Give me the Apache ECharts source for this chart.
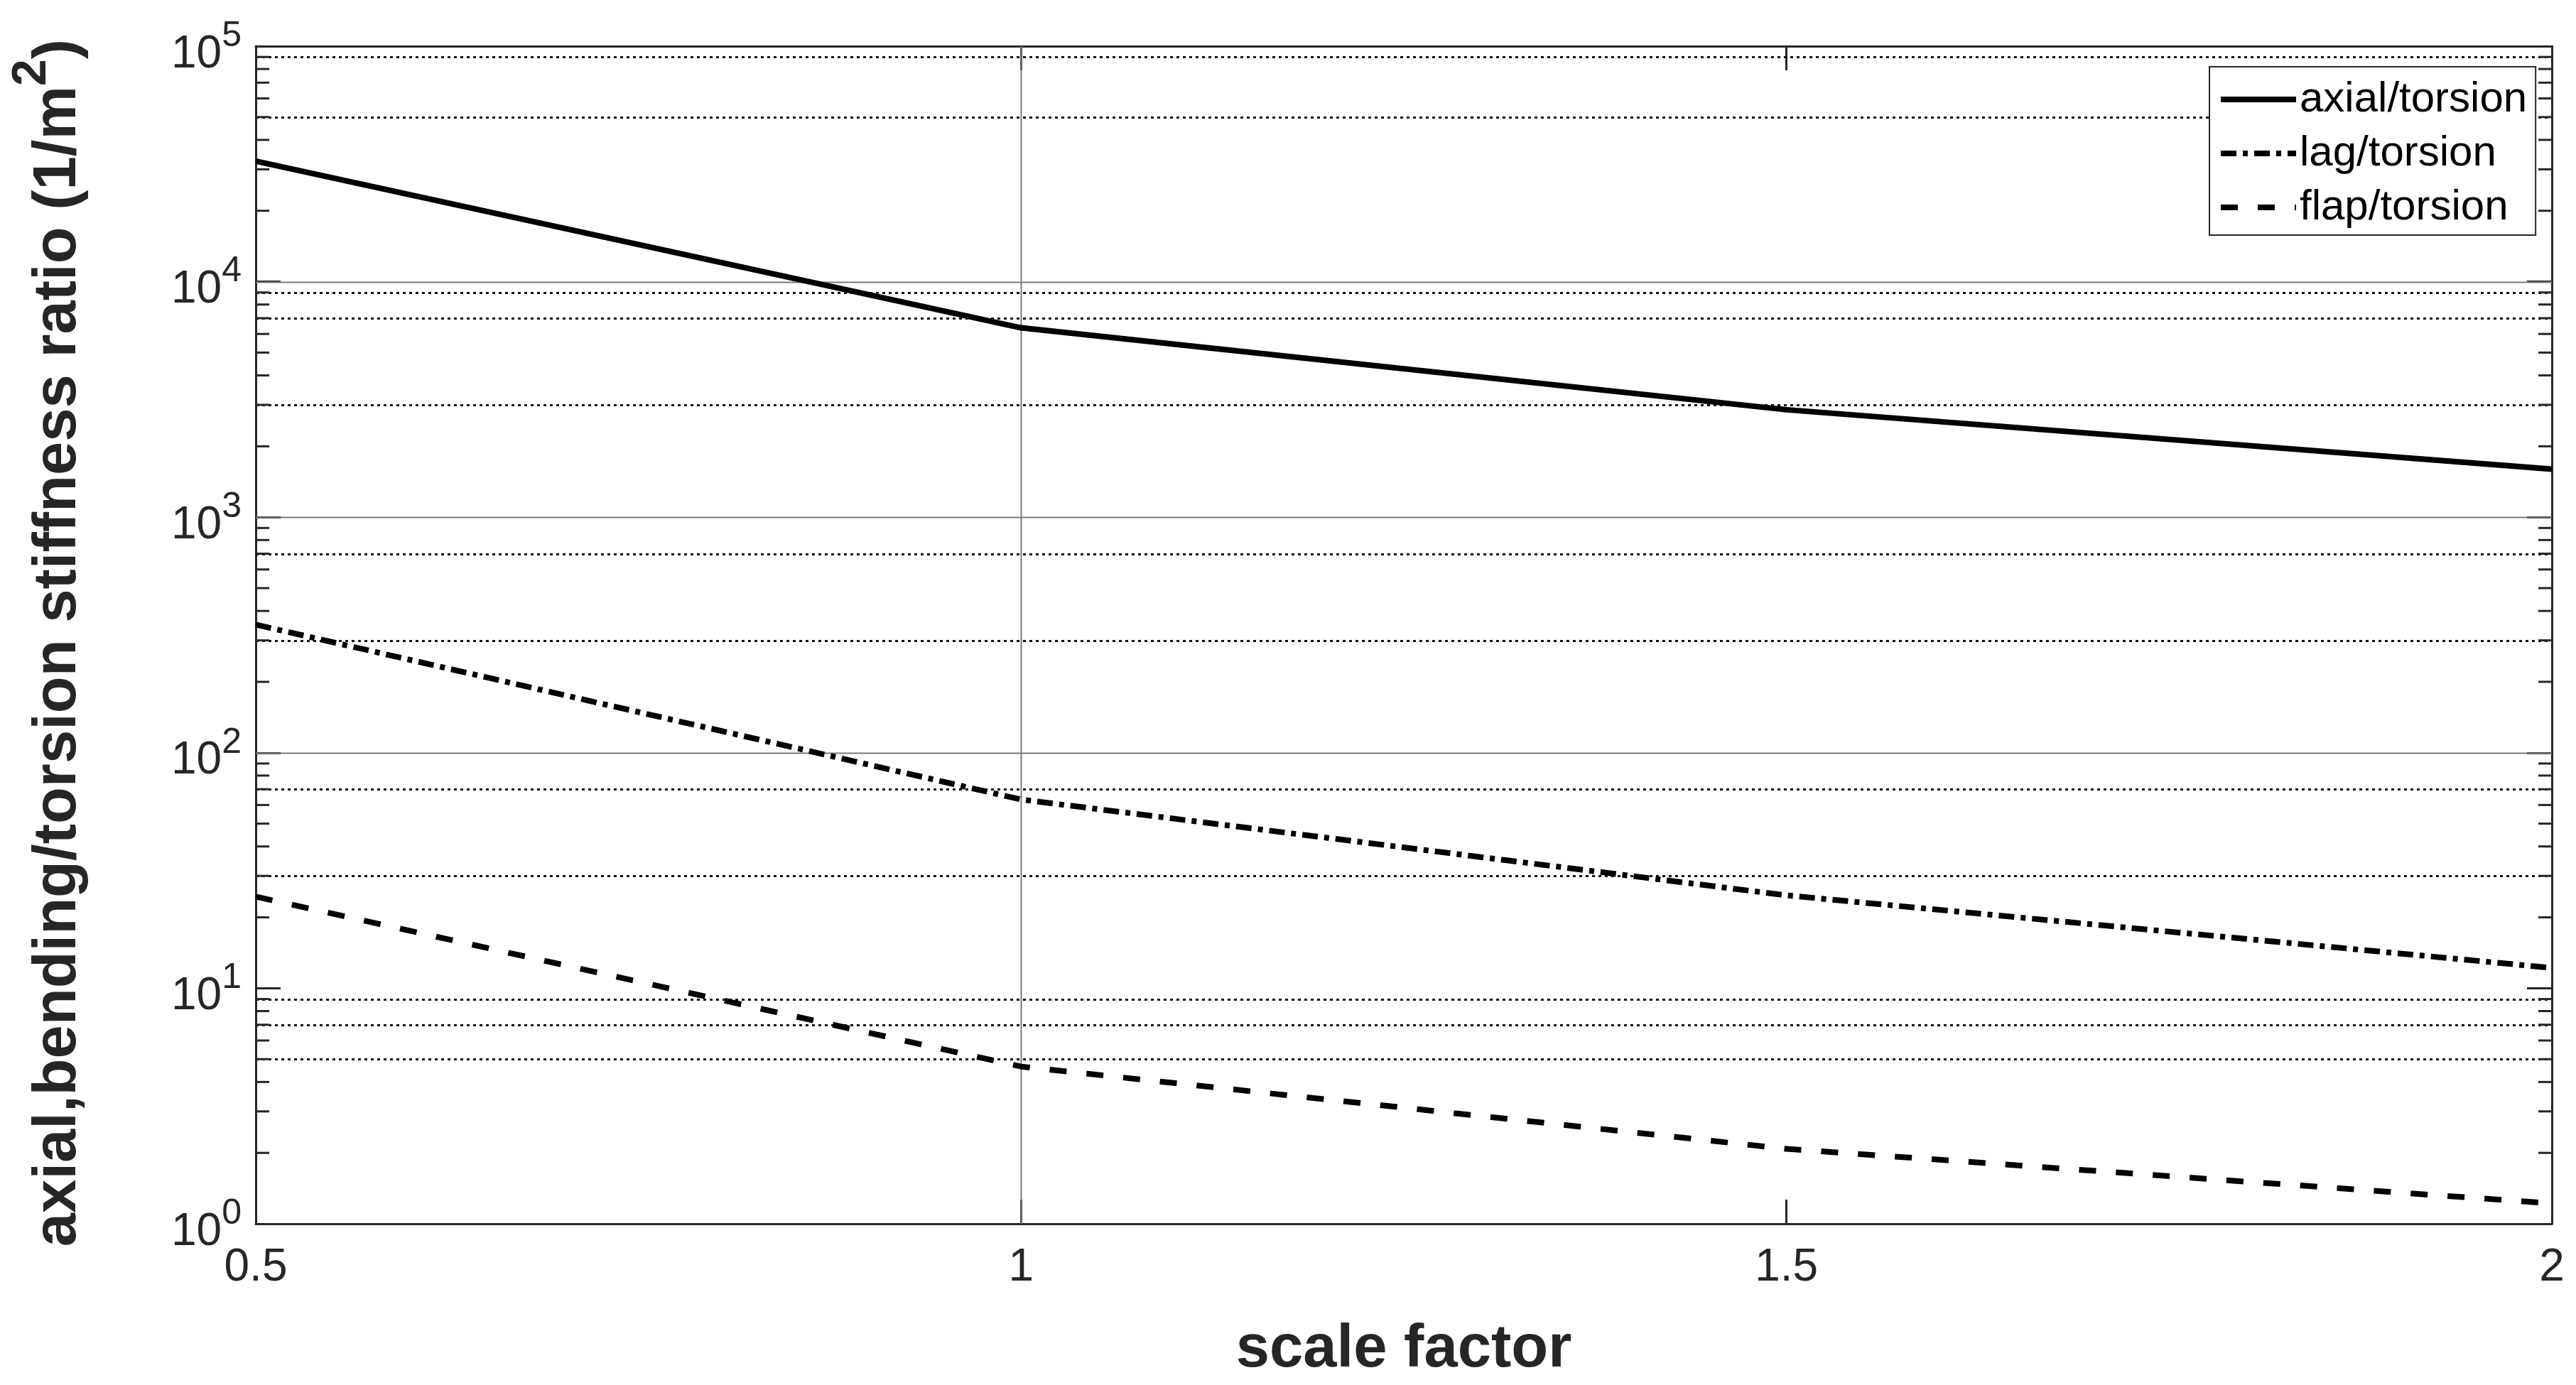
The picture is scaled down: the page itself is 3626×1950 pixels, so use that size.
<!DOCTYPE html>
<html><head><meta charset="utf-8">
<script src="https://cdn.jsdelivr.net/npm/echarts@6/dist/echarts.min.js"></script>
<style>html,body{margin:0;padding:0;background:#fff}#c{width:3626px;height:1950px}</style>
</head><body><div id="c"></div>
<script>
// ---- data ----
const xValues = [0.5, 1, 1.5, 2];
const axialTorsion = [32500, 6370, 2860, 1600];
const lagTorsion = [350, 63.3, 24.8, 12.2];
const flapTorsion = [24.5, 4.65, 2.08, 1.22];
const seriesNames = ['axial/torsion', 'lag/torsion', 'flap/torsion'];
const xTickLabels = ['0.5', '1', '1.5', '2'];
const yMin = 1, yMax = 100000;
const majorGridY = [100, 1000, 10000];
const majorGridX = [1];
const minorGridY = [5, 7, 9, 30, 70, 300, 700, 3000, 7000, 9000, 50000, 90000];
const minorMantissas = [2, 3, 4, 5, 6, 7, 8, 9];
const decades = [1, 10, 100, 1000, 10000];
const xAxisName = 'scale factor';
const yAxisNameMain = 'axial,bending/torsion stiffness ratio (1/m';
const yAxisNameSup = '2';

const FONT = 'Liberation Sans';
const AX = '#262626';
const minorTickValues = [];
decades.forEach(d => minorMantissas.forEach(m => minorTickValues.push(m * d)));

function hLineSeries(values, style, z) {
  return {
    type: 'custom', coordinateSystem: 'cartesian2d', silent: true, z: z, clip: false,
    data: values.map(v => [xValues[0], v]),
    renderItem: function (params, api) {
      const p = api.coord([api.value(0), api.value(1)]);
      const cs = params.coordSys;
      const y = Math.round(p[1]) + 0.5;
      return { type: 'line', shape: { x1: cs.x, y1: y, x2: cs.x + cs.width, y2: y }, style: Object.assign({}, style) };
    }
  };
}
function vLineSeries(values, style, z) {
  return {
    type: 'custom', coordinateSystem: 'cartesian2d', silent: true, z: z, clip: false,
    data: values.map(v => [v, yMin]),
    renderItem: function (params, api) {
      const p = api.coord([api.value(0), api.value(1)]);
      const cs = params.coordSys;
      const x = Math.round(p[0]) + 0.5;
      return { type: 'line', shape: { x1: x, y1: cs.y, x2: x, y2: cs.y + cs.height }, style: Object.assign({}, style) };
    }
  };
}
const minorTickSeries = {
  type: 'custom', coordinateSystem: 'cartesian2d', silent: true, z: 5, clip: false,
  data: minorTickValues.map(v => [xValues[0], v]),
  renderItem: function (params, api) {
    const p = api.coord([api.value(0), api.value(1)]);
    const cs = params.coordSys;
    const st = { stroke: AX, lineWidth: 3 };
    return { type: 'group', children: [
      { type: 'line', shape: { x1: cs.x, y1: p[1], x2: cs.x + 19, y2: p[1] }, style: Object.assign({}, st) },
      { type: 'line', shape: { x1: cs.x + cs.width - 19, y1: p[1], x2: cs.x + cs.width, y2: p[1] }, style: Object.assign({}, st) }
    ] };
  }
};

const gridMajorStyle = { stroke: '#7a7a7a', lineWidth: 2 };
const gridMinorStyle = { stroke: '#111', lineWidth: 3, lineDash: [4, 5] };

const lineStyles = [
  { color: '#000', width: 8, type: 'solid', cap: 'butt' },
  { color: '#000', width: 8, type: [22, 9, 7, 9], cap: 'butt' },
  { color: '#000', width: 8, type: [24, 28], cap: 'butt' }
];
const seriesData = [axialTorsion, lagTorsion, flapTorsion];

const chart = echarts.init(document.getElementById('c'), null, { renderer: 'canvas' });
const option = {
  animation: false,
  backgroundColor: '#fff',
  grid: { left: 360, right: 34, top: 65, bottom: 227, containLabel: false },
  legend: {
    orient: 'vertical', left: 3110, top: 94,
    itemWidth: 106, itemHeight: 20, itemGap: 16,
    padding: [16, 12, 9, 12],
    borderColor: AX, borderWidth: 2, backgroundColor: '#fff',
    itemStyle: { color: 'rgba(0,0,0,0)', borderWidth: 0, borderColor: 'rgba(0,0,0,0)' },
    lineStyle: { width: 8, cap: 'butt' },
    textStyle: { fontSize: 60, fontFamily: FONT, color: '#000', lineHeight: 60 },
    data: seriesNames
  },
  xAxis: [{
    type: 'value', min: xValues[0], max: xValues[xValues.length - 1], interval: 0.5,
    position: 'bottom',
    name: xAxisName, nameLocation: 'middle', nameGap: 135,
    nameTextStyle: { fontSize: 85, fontWeight: 'bold', fontFamily: FONT, color: AX },
    axisLine: { show: true, onZero: false, lineStyle: { color: AX, width: 3 } },
    axisTick: { show: true, inside: true, length: 34, lineStyle: { color: AX, width: 3 } },
    axisLabel: { fontSize: 64, fontFamily: FONT, color: AX, margin: 30,
      formatter: v => xTickLabels[xValues.indexOf(v)] ?? String(v) },
    splitLine: { show: false }
  }, {
    type: 'value', min: xValues[0], max: xValues[xValues.length - 1], interval: 0.5,
    position: 'top',
    axisLine: { show: true, onZero: false, lineStyle: { color: AX, width: 3 } },
    axisTick: { show: true, inside: true, length: 34, lineStyle: { color: AX, width: 3 } },
    axisLabel: { show: false }, splitLine: { show: false }
  }],
  yAxis: [{
    type: 'log', logBase: 10, min: yMin, max: yMax, position: 'left',
    name: '{n|' + yAxisNameMain + '}{s|' + yAxisNameSup + '}{n|)}',
    nameLocation: 'middle', nameRotate: 90, nameGap: 205,
    nameTextStyle: {
      padding: [0, 22, 0, 0],
      rich: {
        n: { fontSize: 85, fontWeight: 'bold', fontFamily: FONT, color: AX, lineHeight: 144, verticalAlign: 'middle' },
        s: { fontSize: 68, fontWeight: 'bold', fontFamily: FONT, color: AX, lineHeight: 68, verticalAlign: 'top' }
      }
    },
    axisLine: { show: true, onZero: false, lineStyle: { color: AX, width: 3 } },
    axisTick: { show: true, inside: true, length: 35, lineStyle: { color: AX, width: 3 } },
    axisLabel: {
      margin: 20, padding: [24, 0, 0, 0],
      formatter: v => '{b|10}{s|' + Math.round(Math.log10(v)) + '}',
      rich: {
        b: { fontSize: 64, fontFamily: FONT, color: AX, lineHeight: 102, verticalAlign: 'middle' },
        s: { fontSize: 50, fontFamily: FONT, color: AX, lineHeight: 50, verticalAlign: 'top' }
      }
    },
    splitLine: { show: false }, minorTick: { show: false }
  }, {
    type: 'log', logBase: 10, min: yMin, max: yMax, position: 'right',
    axisLine: { show: true, onZero: false, lineStyle: { color: AX, width: 3 } },
    axisTick: { show: true, inside: true, length: 35, lineStyle: { color: AX, width: 3 } },
    axisLabel: { show: false }, splitLine: { show: false }
  }],
  series: [
    hLineSeries(majorGridY, gridMajorStyle, 1),
    hLineSeries(minorGridY, gridMinorStyle, 1),
    vLineSeries(majorGridX, gridMajorStyle, 1),
    minorTickSeries
  ].concat(seriesNames.map((name, i) => ({
    name: name, type: 'line', z: 10,
    data: xValues.map((x, j) => [x, seriesData[i][j]]),
    symbol: 'none', showSymbol: false, silent: true,
    lineStyle: lineStyles[i],
    itemStyle: { color: '#000' }
  })))
};
chart.setOption(option);
</script>
</body></html>
